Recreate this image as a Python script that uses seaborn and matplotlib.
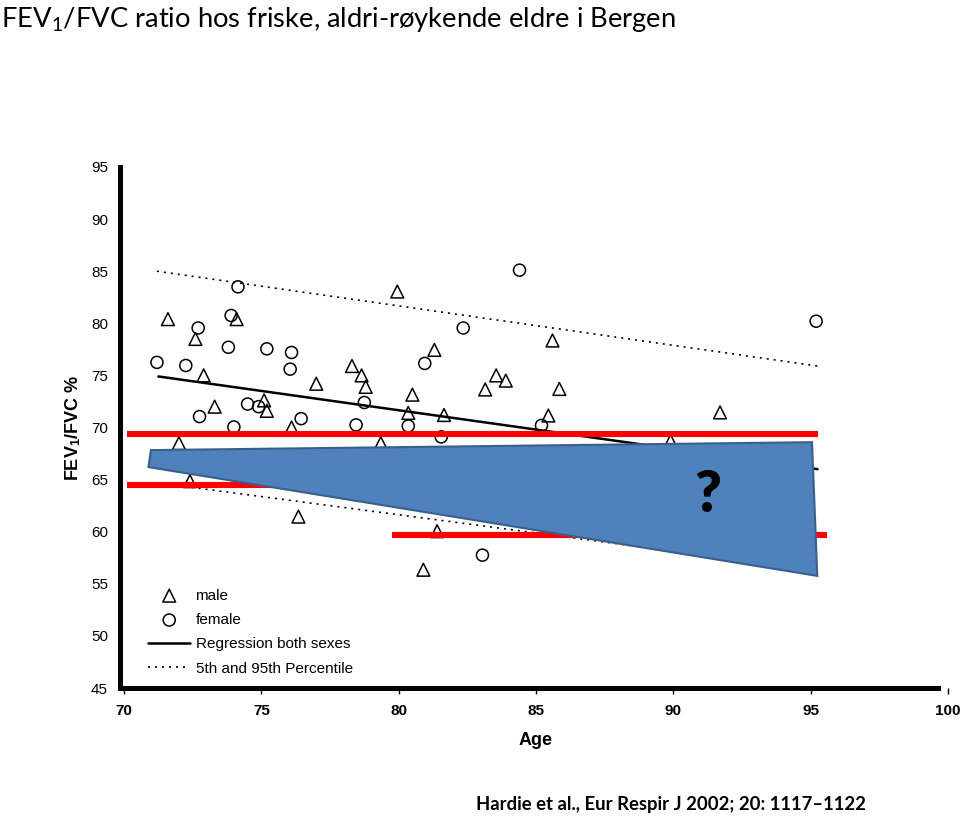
import matplotlib
matplotlib.use("Agg")
import matplotlib.pyplot as plt
import seaborn as sns
import pandas as pd
from matplotlib.patches import Polygon
from matplotlib.font_manager import FontProperties

# ---------------- data ----------------
male_age = [71.6, 72.6, 74.1, 72.9, 73.3, 75.1, 75.2, 76.1, 77.0, 78.3, 78.65, 78.8,
            79.95, 80.5, 80.35, 81.3, 81.65, 83.15, 83.55, 83.9, 72.0, 79.35, 85.6,
            85.85, 85.45, 91.7, 89.9, 81.4, 80.9, 72.4, 76.35]
male_val = [80.4, 78.5, 80.4, 75.0, 72.0, 72.6, 71.6, 70.0, 74.2, 75.9, 75.0, 73.9,
            83.05, 73.15, 71.4, 77.45, 71.2, 73.65, 75.0, 74.5, 68.5, 68.5, 78.35,
            73.7, 71.15, 71.45, 68.7, 60.05, 56.35, 64.85, 61.45]

female_age = [71.2, 72.25, 72.7, 72.75, 73.8, 73.9, 74.15, 74.0, 74.5, 74.9, 75.2, 76.1,
              76.05, 76.45, 78.45, 78.75, 80.35, 80.95, 81.55, 82.35, 84.4, 85.2, 95.2,
              83.05]
female_val = [76.25, 75.95, 79.55, 71.05, 77.7, 80.75, 83.5, 70.05, 72.25, 72.0, 77.55, 77.2,
              75.6, 70.85, 70.25, 72.4, 70.15, 76.15, 69.1, 79.55, 85.1, 70.2, 80.2,
              57.75]

reg_age = [71.25, 95.25]
reg_val = [74.9, 66.0]
p95_age = [71.2, 95.25]
p95_val = [85.0, 75.9]
p5_age = [71.2, 95.25]
p5_val = [64.7, 56.3]

red1_age = [70.1, 95.25]
red1_val = [69.4, 69.4]
red2_age = [70.1, 88.0]
red2_val = [64.5, 64.5]
red3_age = [79.75, 95.6]
red3_val = [59.65, 59.65]

poly_age = [70.98, 95.05, 95.24, 70.89]
poly_val = [67.83, 68.59, 55.76, 66.20]

x_ticks = [70, 75, 80, 85, 90, 95, 100]
y_ticks = [45, 50, 55, 60, 65, 70, 75, 80, 85, 90, 95]

title = "FEV$_1$/FVC ratio hos friske, aldri-røykende eldre i Bergen"
ylabel = "FEV$_\\mathbf{1}$/FVC %"
xlabel = "Age"
legend_labels = ["male", "female", "Regression both sexes", "5th and 95th Percentile"]
citation = "Hardie et al., Eur Respir J 2002; 20: 1117\u20131122"
question = "?"

# ---------------- style ----------------
sns.set_theme(style="white")
plt.rcParams["font.family"] = ["Liberation Sans", "DejaVu Sans"]
plt.rcParams["mathtext.fontset"] = "custom"
plt.rcParams["mathtext.rm"] = "Lato"
plt.rcParams["mathtext.it"] = "Lato:italic"
plt.rcParams["mathtext.bf"] = "Liberation Sans:bold"
for k in ["text.color", "axes.labelcolor", "xtick.color", "ytick.color",
          "xtick.labelcolor", "ytick.labelcolor"]:
    plt.rcParams[k] = "black"

fig = plt.figure(figsize=(9.6, 8.17), dpi=100)
W, H = 960, 817
ax = fig.add_axes([124 / W, 1 - 688 / H, (948 - 124) / W, (688 - 167) / H])

male_df = pd.DataFrame({"age": male_age, "val": male_val})
female_df = pd.DataFrame({"age": female_age, "val": female_val})

sns.scatterplot(data=male_df, x="age", y="val", marker="^", s=85, linewidth=1.1,
                color="black", label=legend_labels[0], ax=ax, zorder=2)
ax.collections[-1].set_facecolor("none")
ax.collections[-1].set_edgecolor("black")
sns.scatterplot(data=female_df, x="age", y="val", marker="o", s=75, linewidth=1.1,
                color="black", label=legend_labels[1], ax=ax, zorder=2)
ax.collections[-1].set_facecolor("none")
ax.collections[-1].set_edgecolor("black")

sns.lineplot(x=reg_age, y=reg_val, color="black", linewidth=1.8,
             label=legend_labels[2], ax=ax, zorder=2)
dot = (0, (1.2, 3.0))
sns.lineplot(x=p95_age, y=p95_val, color="black", linewidth=1.2, linestyle=dot,
             label=legend_labels[3], ax=ax, zorder=2)
sns.lineplot(x=p5_age, y=p5_val, color="black", linewidth=1.2, linestyle=dot,
             ax=ax, zorder=2)

for a, v in [(red1_age, red1_val), (red2_age, red2_val), (red3_age, red3_val)]:
    sns.lineplot(x=a, y=v, color="#FF0000", linewidth=4.4, ax=ax, zorder=3,
                 solid_capstyle="butt")

poly = Polygon(list(zip(poly_age, poly_val)), closed=True, facecolor="#4F81BD",
               edgecolor="#3A5F8B", linewidth=1.5, zorder=4)
ax.add_patch(poly)
ax.text(91.25, 61.86, question, fontsize=41, fontweight="heavy", family="Lato",
        ha="center", va="baseline", color="black", zorder=5)

ax.set_xlim(70, 100)
ax.set_ylim(45, 95)
tick_fp = FontProperties(family="Liberation Sans", weight="bold", size=11)
ax.set_xticks(x_ticks)
ax.set_yticks(y_ticks)
ax.set_xticklabels([str(t) for t in x_ticks], fontproperties=tick_fp, color="black")
ax.set_yticklabels([str(t) for t in y_ticks], fontproperties=tick_fp, color="black")
ax.tick_params(axis="x", direction="out", length=4, width=1, color="black", pad=7.5,
               bottom=True)
ax.tick_params(axis="y", length=0, pad=8.5, left=True)

for s in ["top", "right"]:
    ax.spines[s].set_visible(False)
ax.spines["left"].set_linewidth(3.6)
ax.spines["left"].set_color("black")
ax.spines["left"].set_position(("outward", 3))
ax.spines["bottom"].set_linewidth(3.6)
ax.spines["bottom"].set_color("black")
ax.spines["bottom"].set_bounds(69.85, 99.65)

ax.set_ylabel(ylabel, fontsize=13, fontweight="bold", color="black")
ax.yaxis.set_label_coords((83 - 124) / 824, 0.5)
ax.set_xlabel(xlabel, fontsize=13, fontweight="bold", color="black")
ax.xaxis.set_label_coords(0.4995, (688 - 732) / 521)

handles, labels = ax.get_legend_handles_labels()
order = [labels.index(l) for l in legend_labels]
leg = ax.legend([handles[i] for i in order], [labels[i] for i in order],
                loc="lower left", bbox_to_anchor=(24 / 824, 0.0234),
                frameon=False, fontsize=11, borderpad=0, borderaxespad=0,
                handlelength=2.78, handletextpad=0.33, labelspacing=0.68,
                scatterpoints=1)
for t in leg.get_texts():
    t.set_color("black")

fig.text(0.001, 1 - 27 / H, title, fontsize=19.7, family="Lato",
         ha="left", va="baseline", color="black")
fig.text(476 / W, 1 - 810 / H, citation, fontsize=13.3, family="Lato",
         fontweight="bold", ha="left", va="baseline", color="black")

fig.savefig("out.png", dpi=100, facecolor="white")
